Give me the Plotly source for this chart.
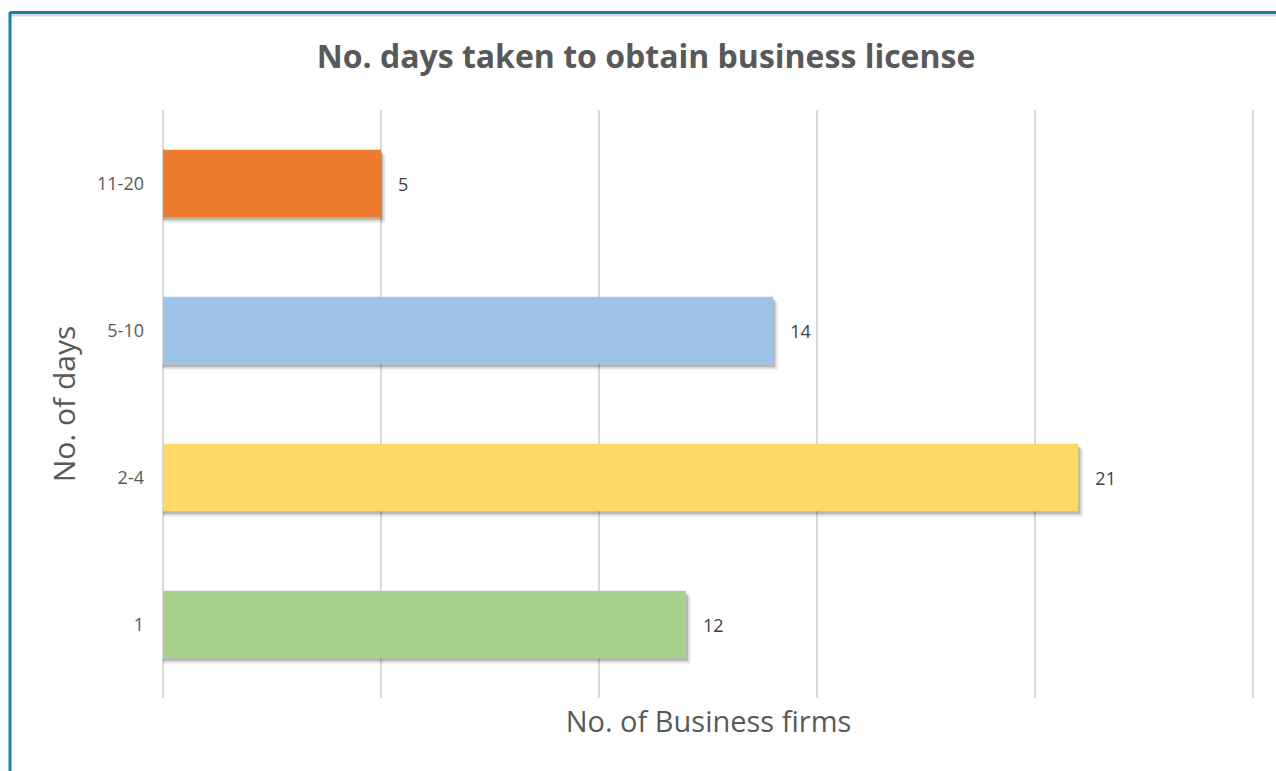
import plotly.graph_objects as go

# Data
day_ranges = ["1", "2-4", "5-10", "11-20"]
firm_counts = [12, 21, 14, 5]
bar_colors = ["#a9d18e", "#ffd966", "#9dc3e6", "#ef7b2f"]

W, H = 1276, 771
ML, MR, MT, MB = 163, 22, 110, 73
PW, PH = W - ML - MR, H - MT - MB

BAR_W = 0.46
FONT = "Open Sans"
GREY = "#595959"


def px_x(p):
    return (p - ML) / PW


def px_y(p):
    return (H - MB - p) / PH


fig = go.Figure()

# soft drop shadow under each bar (two layers for a blurred edge)
for extra, shift, alpha in [(0.035, 0.10, 0.10), (0.02, 0.05, 0.20)]:
    fig.add_trace(go.Bar(
        y=day_ranges, x=[v + shift for v in firm_counts], orientation="h",
        width=BAR_W, offset=-BAR_W / 2 - extra,
        marker=dict(color=f"rgba(0,0,0,{alpha})", line=dict(width=0)),
        hoverinfo="skip", showlegend=False,
    ))

fig.add_trace(go.Bar(
    y=day_ranges, x=firm_counts, orientation="h",
    width=BAR_W,
    marker=dict(color=bar_colors, line=dict(width=0)),
    text=firm_counts, texttemplate="   %{text}", textposition="outside",
    textfont=dict(family=FONT, size=18, color="#404040"),
    cliponaxis=False, showlegend=False,
))

fig.update_layout(
    width=W, height=H,
    margin=dict(l=ML, r=MR, t=MT, b=MB),
    paper_bgcolor="white", plot_bgcolor="white",
    barmode="overlay",
    title=dict(
        text="<b>No. days taken to obtain business license</b>",
        x=(646 / W), xanchor="center", y=1 - 57 / H, yanchor="middle",
        font=dict(family=FONT, size=32, color=GREY),
    ),
    xaxis=dict(
        range=[0, 25.03], dtick=5, showticklabels=False,
        showgrid=True, gridcolor="#d9d9d9", gridwidth=2,
        zeroline=True, zerolinecolor="#d9d9d9", zerolinewidth=2,
        showline=False,
        title=dict(text="No. of Business firms", standoff=13,
                   font=dict(family=FONT, size=29, color=GREY)),
    ),
    yaxis=dict(
        categoryorder="array", categoryarray=day_ranges,
        range=[-0.5, 3.5], showgrid=False, zeroline=False, showline=False,
        ticks="", ticklabelstandoff=18,
        tickfont=dict(family=FONT, size=18, color=GREY),
        title=dict(text="No. of days", standoff=12,
                   font=dict(family=FONT, size=30, color=GREY)),
    ),
    shapes=[
        # frame around the chart (top and left edges)
        dict(type="line", xref="paper", yref="paper",
             x0=px_x(11), x1=px_x(W + 5), y0=px_y(15), y1=px_y(15),
             line=dict(color="#d8d8d8", width=3), layer="below"),
        dict(type="line", xref="paper", yref="paper",
             x0=px_x(10), x1=px_x(W + 5), y0=px_y(12.5), y1=px_y(12.5),
             line=dict(color="#1f7fa8", width=3)),
        dict(type="line", xref="paper", yref="paper",
             x0=px_x(10), x1=px_x(10), y0=px_y(12), y1=px_y(H + 5),
             line=dict(color="#1f7fa8", width=3)),
    ],
)

fig.write_html("out.html")
